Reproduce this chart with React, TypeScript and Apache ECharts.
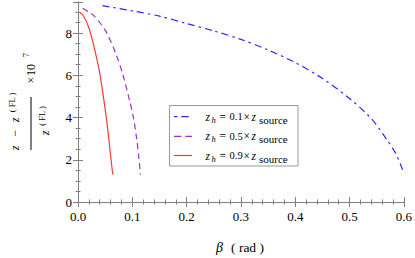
import React, { useEffect, useRef } from "react";
import * as echarts from "echarts";

const xTickLabels = ["0.0", "0.1", "0.2", "0.3", "0.4", "0.5", "0.6"];
const yTickLabels = ["0", "2", "4", "6", "8"];

const seriesFactors = ["0.1", "0.5", "0.9"];

const blueBeta = [0.045, 0.1, 0.15, 0.2, 0.25, 0.3, 0.35, 0.4, 0.45, 0.5, 0.54, 0.57, 0.585, 0.595, 0.6];
const blueVal = [9.3, 9.05, 8.8, 8.45, 8.1, 7.7, 7.2, 6.6, 5.85, 4.9, 3.95, 2.9, 2.3, 1.7, 1.35];

const purpleBeta = [0.0085, 0.02, 0.03, 0.04, 0.053, 0.07, 0.083, 0.095, 0.102, 0.108, 0.112, 0.115];
const purpleVal = [9.17, 9.0, 8.8, 8.5, 8.0, 7.0, 6.0, 4.8, 4.0, 3.0, 2.1, 1.3];

const redBeta = [0.003, 0.01, 0.02, 0.03, 0.04, 0.05, 0.055, 0.06, 0.064];
const redVal = [8.98, 8.82, 8.25, 7.3, 6.1, 4.4, 3.4, 2.2, 1.3];

const FONT = "Liberation Serif";
const FRAME = "#808080";

const zip = (a: number[], b: number[]) => a.map((v, i) => [v, b[i]]);

export default function App() {
  const ref = useRef<HTMLDivElement>(null);
  useEffect(() => {
    const chart = echarts.init(ref.current!, null, { renderer: "svg" });
    const grid = { left: 78, right: 8.5, top: 2, bottom: 56 };
    const baseAxis = {
      type: "value" as const,
      axisLine: { show: true, lineStyle: { color: FRAME, width: 1 } },
      splitLine: { show: false },
    };
    const xCommon = { ...baseAxis, min: 0, max: 0.6 };
    const yCommon = { ...baseAxis, min: 0, max: 9.47 };
    const noLabel = { show: false };
    const major = (len: number) => ({ show: true, inside: true, length: len, lineStyle: { color: FRAME, width: 1 } });

    const names = seriesFactors.map((f) => `zh${f}`);
    const colors = ["#2a2aff", "#9933cc", "#ff3838"];
    const dashes: any[] = [[7, 4, 2.5, 4], [6, 4], "solid"];
    const legendDash: any[] = [[3.3, 4, 7.4, 10], [7.3, 4], null];
    const legendEnd = [189, 192, 192];
    const data = [zip(blueBeta, blueVal), zip(purpleBeta, purpleVal), zip(redBeta, redVal)];

    const txt = (x: number, y: number, text: string, size: number, italic = false) => ({
      type: "text",
      x,
      y,
      style: { text, fontFamily: FONT, fontSize: size, fontStyle: italic ? "italic" : "normal", fill: "#000", align: "left", verticalAlign: "middle" },
    });

    const rowY = [116.7, 136.3, 155.5];
    const legendChildren: any[] = [
      { type: "rect", shape: { x: 169.5, y: 105.5, width: 128.5, height: 60.5 }, style: { fill: "#fff", stroke: "#999", lineWidth: 1 } },
    ];
    seriesFactors.forEach((f, i) => {
      const y = rowY[i];
      legendChildren.push({
        type: "line",
        shape: { x1: 174, y1: y, x2: legendEnd[i], y2: y },
        style: { stroke: colors[i], lineWidth: 1.2, lineDash: legendDash[i] },
      });
      legendChildren.push(txt(205.5, y, "z", 11.5, true));
      legendChildren.push(txt(211.5, y + 3, "h", 8.5, true));
      legendChildren.push(txt(219.5, y, "=", 11.5));
      legendChildren.push(txt(229.5, y, f, 10.5));
      legendChildren.push(txt(243.5, y, "×", 11.5));
      legendChildren.push(txt(251.5, y, "z", 11.5, true));
      legendChildren.push(txt(259, y + 3, "source", 11));
    });

    chart.setOption({
      animation: false,
      backgroundColor: "#ffffff",
      grid,
      xAxis: [
        {
          ...xCommon,
          position: "bottom",
          interval: 0.1,
          axisTick: major(5),
          axisLabel: {
            margin: 8,
            fontFamily: FONT,
            fontSize: 13,
            color: "#000",
            formatter: (v: number) => xTickLabels[Math.round(v * 10)] ?? "",
          },
        },
        { ...xCommon, position: "bottom", interval: 0.02, axisLine: { show: false }, axisTick: major(2.5), axisLabel: noLabel },
        { ...xCommon, position: "top", interval: 0.1, axisTick: major(5), axisLabel: noLabel },
        { ...xCommon, position: "top", interval: 0.02, axisLine: { show: false }, axisTick: major(2.5), axisLabel: noLabel },
      ],
      yAxis: [
        {
          ...yCommon,
          position: "left",
          interval: 2,
          axisTick: major(5),
          axisLabel: {
            margin: 6,
            fontFamily: FONT,
            fontSize: 13,
            color: "#000",
            formatter: (v: number) => (Math.abs(v / 2 - Math.round(v / 2)) < 1e-6 ? yTickLabels[Math.round(v / 2)] ?? "" : ""),
          },
        },
        { ...yCommon, position: "left", interval: 0.5, axisLine: { show: false }, axisTick: major(2.5), axisLabel: noLabel },
        { ...yCommon, position: "right", interval: 2, axisTick: major(5), axisLabel: noLabel },
        { ...yCommon, position: "right", interval: 0.5, axisLine: { show: false }, axisTick: major(2.5), axisLabel: noLabel },
      ],
      series: names.map((n, i) => ({
        name: n,
        type: "line",
        xAxisIndex: 0,
        yAxisIndex: 0,
        data: data[i],
        symbol: "none",
        smooth: 0.3,
        lineStyle: { color: colors[i], width: 1.2, type: dashes[i] },
        itemStyle: { color: colors[i] },
      })),
      graphic: [
        { type: "group", children: legendChildren },
        {
          type: "group",
          x: 31,
          y: 123.5,
          rotation: Math.PI / 2,
          children: [
            { type: "line", shape: { x1: -26.5, y1: 0, x2: 26.5, y2: 0 }, style: { stroke: "#000", lineWidth: 1 } },
            { type: "text", x: -24.5, y: -16, style: { text: "z", fontFamily: FONT, fontStyle: "italic", fontSize: 12, fill: "#000", align: "center", verticalAlign: "middle" } },
            { type: "text", x: -9.5, y: -16, style: { text: "−", fontFamily: FONT, fontSize: 12, fill: "#000", align: "center", verticalAlign: "middle" } },
            { type: "text", x: 3.5, y: -16, style: { text: "z", fontFamily: FONT, fontStyle: "italic", fontSize: 12, fill: "#000", align: "center", verticalAlign: "middle" } },
            { type: "text", x: 21, y: -19.5, style: { text: "( FL )", fontFamily: FONT, fontSize: 8.5, fill: "#000", align: "center", verticalAlign: "middle" } },
            { type: "text", x: -9.5, y: 14, style: { text: "z", fontFamily: FONT, fontStyle: "italic", fontSize: 12, fill: "#000", align: "center", verticalAlign: "middle" } },
            { type: "text", x: 7.5, y: 10.5, style: { text: "( FL )", fontFamily: FONT, fontSize: 8.5, fill: "#000", align: "center", verticalAlign: "middle" } },
            { type: "text", x: 43.5, y: 0, style: { text: "×", fontFamily: FONT, fontSize: 12, fill: "#000", align: "center", verticalAlign: "middle" } },
            { type: "text", x: 53.5, y: 0, style: { text: "10", fontFamily: FONT, fontSize: 12, fill: "#000", align: "center", verticalAlign: "middle" } },
            { type: "text", x: 68.5, y: -5.5, style: { text: "7", fontFamily: FONT, fontSize: 8.5, fill: "#000", align: "center", verticalAlign: "middle" } },
          ],
        },
        { type: "text", x: 219.5, y: 247.5, style: { text: "β", fontFamily: FONT, fontStyle: "italic", fontSize: 14, fill: "#000", align: "center", verticalAlign: "middle" } },
        { type: "text", x: 247.5, y: 247.5, style: { text: "( rad )", fontFamily: FONT, fontSize: 13.5, fill: "#000", align: "center", verticalAlign: "middle" } },
      ],
    });
    return () => chart.dispose();
  }, []);
  return <div ref={ref} style={{ position: "fixed", left: 0, top: 0, width: 415, height: 258 }} />;
}
